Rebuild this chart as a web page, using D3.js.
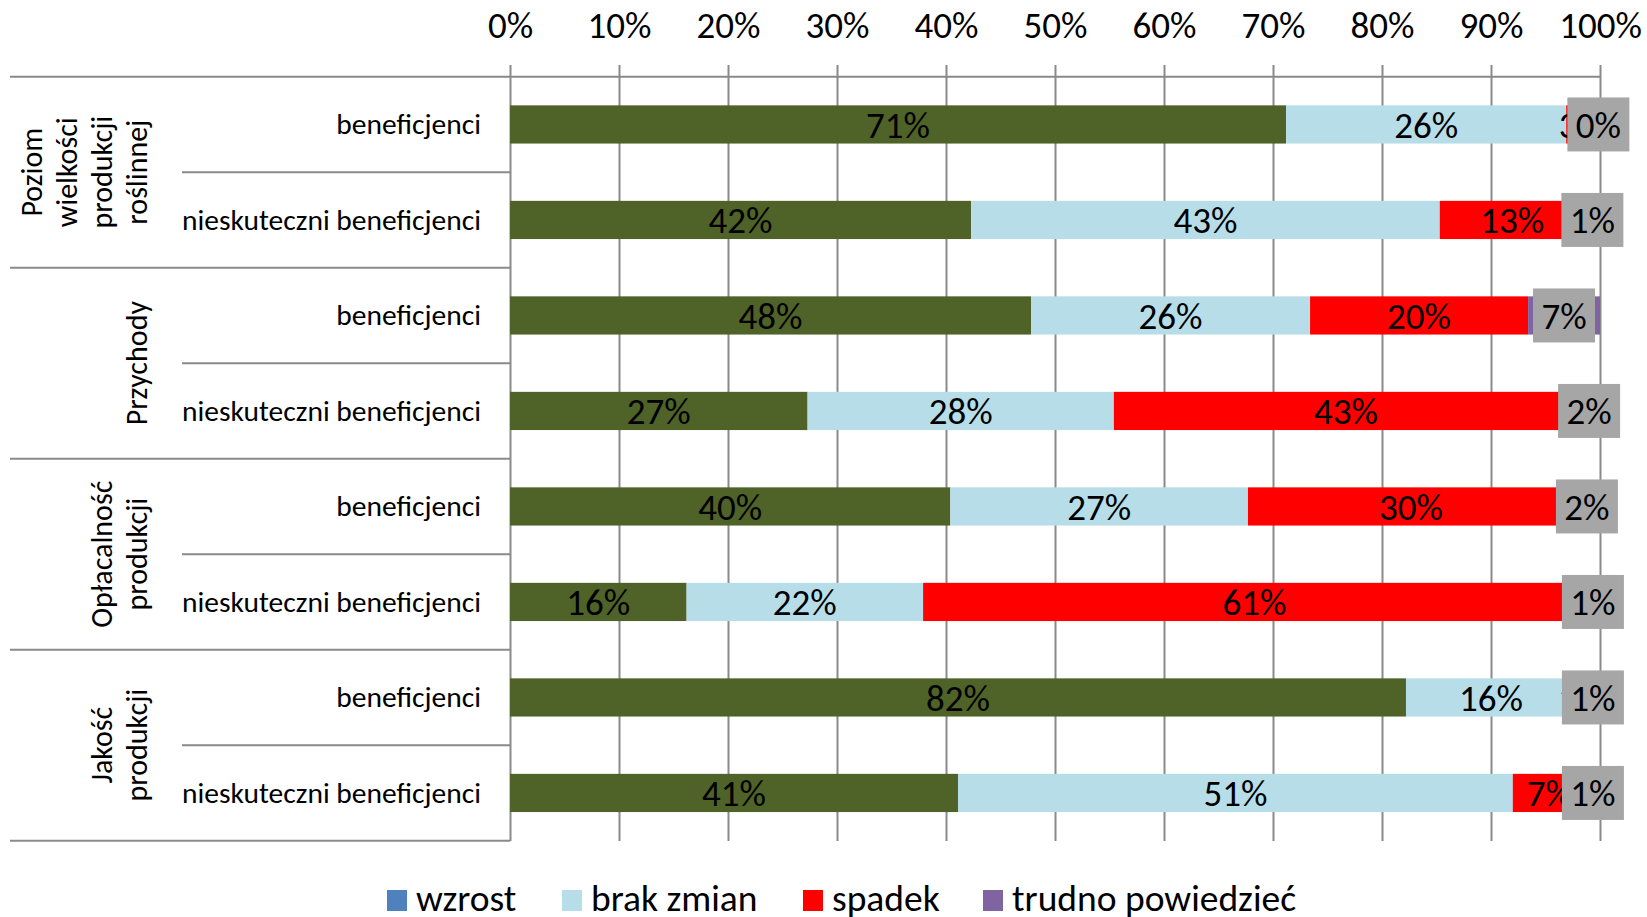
<!DOCTYPE html>
<html>
<head>
<meta charset="utf-8">
<script src="https://cdn.jsdelivr.net/npm/d3@7"></script>
<style>
  body { margin: 0; background: #fff; }
  svg { display: block; }
  text { font-family: Carlito, Lato, "Open Sans", sans-serif; fill: #000; }
</style>
</head>
<body>
<div id="chart"></div>
<script>
// categories
const groupLines = [
    ["Poziom", "wielkości", "produkcji", "roślinnej"],
    ["Przychody"],
    ["Opłacalność", "produkcji"],
    ["Jakość", "produkcji"]
];
const subgroups = ["beneficjenci", "nieskuteczni beneficjenci"];
const seriesNames = ["wzrost", "brak zmian", "spadek", "trudno powiedzieć"];
const seriesColors = ["#4F6228", "#B7DEE8", "#FF0000", "#8064A2"];
const legendColors = ["#4F81BD", "#B7DEE8", "#FF0000", "#8064A2"];

// values in %, one per row (group x subgroup)
const wzrost = [71.2, 42.3, 47.8, 27.3, 40.4, 16.2, 82.2, 41.1];
const brakZmian = [25.7, 43.0, 25.6, 28.1, 27.3, 21.7, 15.6, 50.9];
const spadek = [2.8, 13.3, 20.0, 42.6, 29.9, 60.8, 0.9, 6.7];
const trudno = [0.3, 1.4, 6.6, 2.0, 2.4, 1.3, 1.3, 1.3];

const tickValues = [0, 10, 20, 30, 40, 50, 60, 70, 80, 90, 100];

const width = 1647, height = 917;
const plotTop = 76.7, plotBottom = 840.7, plotLeft = 510, plotRight = 1600;

const rows = [];
groupLines.forEach((g, gi) => {
    subgroups.forEach((s, si) => {
        const i = gi * 2 + si;
        rows.push({
            id: i, group: gi, label: s,
            "wzrost": wzrost[i], "brak zmian": brakZmian[i],
            "spadek": spadek[i], "trudno powiedzieć": trudno[i]
        });
    });
});

const svg = d3.select("#chart").append("svg")
    .attr("width", width)
    .attr("height", height);

const x = d3.scaleLinear().domain([0, 100]).range([plotLeft, plotRight]);
const y = d3.scaleBand().domain(rows.map(d => d.id)).range([plotTop, plotBottom])
    .paddingInner(0.6).paddingOuter(0.3);
const yRow = d3.scaleBand().domain(rows.map(d => d.id)).range([plotTop, plotBottom]);

const lineColor = "#8a8a8a";

// gridlines + tick labels
const axis = svg.append("g")
    .attr("transform", "translate(0,65)")
    .call(d3.axisTop(x)
        .tickValues(tickValues)
        .tickFormat(d => d + "%")
        .tickSizeInner(-(plotBottom + 0.3 - 65))
        .tickSizeOuter(0)
        .tickPadding(27));
axis.select(".domain").remove();
axis.attr("font-family", null);
axis.selectAll(".tick line").attr("stroke", lineColor).attr("stroke-width", 2);
axis.selectAll(".tick text").attr("font-size", 37).attr("fill", "#000");

// table lines on the left
const tbl = svg.append("g").attr("stroke", lineColor).attr("stroke-width", 2);
tbl.append("line").attr("x1", 10).attr("x2", plotRight).attr("y1", plotTop).attr("y2", plotTop);
rows.forEach(r => {
    const yb = yRow(r.id) + yRow.bandwidth();
    tbl.append("line")
        .attr("x1", r.id % 2 === 1 ? 10 : 182).attr("x2", plotLeft)
        .attr("y1", yb).attr("y2", yb);
});

// bars
const stacked = d3.stack().keys(seriesNames)(rows);
const layers = svg.append("g").selectAll("g")
    .data(stacked)
    .join("g")
    .attr("fill", (d, i) => seriesColors[i]);
layers.selectAll("rect")
    .data(d => d)
    .join("rect")
    .attr("x", d => x(d[0]))
    .attr("width", d => x(d[1]) - x(d[0]))
    .attr("y", d => y(d.data.id))
    .attr("height", y.bandwidth());

// data labels
stacked.forEach((layer, li) => {
    const g = svg.append("g");
    layer.forEach(d => {
        const cx = x((d[0] + d[1]) / 2);
        const cy = y(d.data.id) + y.bandwidth() / 2;
        if (li === 3) {
            g.append("rect")
                .attr("x", cx - 31).attr("y", cy - 27)
                .attr("width", 62).attr("height", 54)
                .attr("fill", "#A6A6A6");
        }
        g.append("text")
            .attr("x", cx).attr("y", cy)
            .attr("dy", "0.36em")
            .attr("text-anchor", "middle")
            .attr("font-size", 37)
            .text(Math.round(d[1] - d[0]) + "%");
    });
});

// row labels
svg.append("g").selectAll("text")
    .data(rows)
    .join("text")
    .attr("x", 481)
    .attr("y", d => yRow(d.id) + yRow.bandwidth() / 2)
    .attr("dy", "0.33em")
    .attr("text-anchor", "end")
    .attr("font-size", 29.5)
    .text(d => d.label);

// group labels (rotated)
groupLines.forEach((lines, gi) => {
    const cy = yRow(gi * 2) + yRow.bandwidth();
    lines.forEach((t, li) => {
        const xb = 147 - (lines.length - 1 - li) * 35;
        svg.append("text")
            .attr("transform", `translate(${xb},${cy}) rotate(-90)`)
            .attr("text-anchor", "middle")
            .attr("font-size", 30)
            .text(t);
    });
});

// legend
const legendX = [387, 562, 803, 983];
const legend = svg.append("g").selectAll("g")
    .data(seriesNames)
    .join("g")
    .attr("transform", (d, i) => `translate(${legendX[i]},890)`);
legend.append("rect")
    .attr("width", 20).attr("height", 21)
    .attr("fill", (d, i) => legendColors[i]);
legend.append("text")
    .attr("x", 29).attr("y", 21)
    .attr("font-size", 37.5)
    .text(d => d);
</script>
</body>
</html>
